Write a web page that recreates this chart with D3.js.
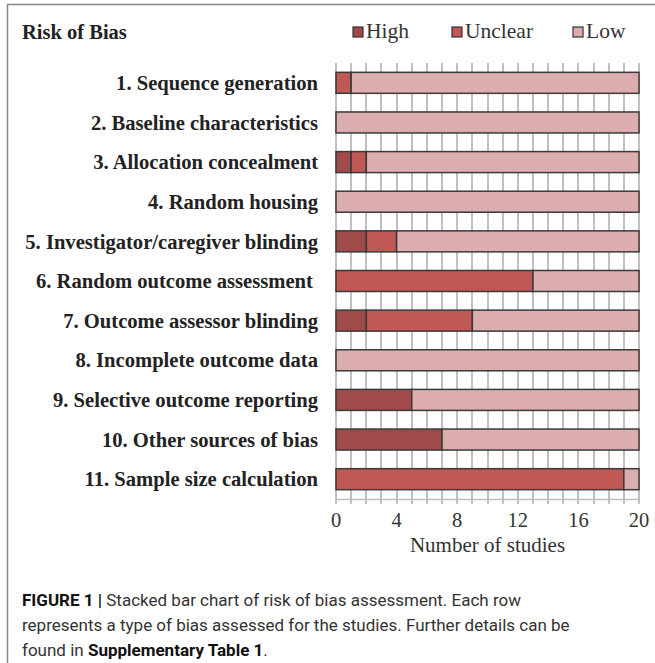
<!DOCTYPE html>
<html>
<head>
<meta charset="utf-8">
<script src="https://cdn.jsdelivr.net/npm/d3@7"></script>
<style>
  body { margin: 0; background: #fff; }
</style>
</head>
<body>
<svg id="chart" width="655" height="663"></svg>
<script>
let categories = [
    "1. Sequence generation",
    "2. Baseline characteristics",
    "3. Allocation concealment",
    "4. Random housing",
    "5. Investigator/caregiver blinding",
    "6. Random outcome assessment ",
    "7. Outcome assessor blinding",
    "8. Incomplete outcome data",
    "9. Selective outcome reporting",
    "10. Other sources of bias",
    "11. Sample size calculation"
];
let highValues    = [0, 0, 1, 0, 2, 0, 2, 0, 5, 7, 0];
let unclearValues = [1, 0, 1, 0, 2, 13, 7, 0, 0, 0, 19];
let lowValues     = [19, 20, 18, 20, 16, 7, 11, 20, 15, 13, 1];
let seriesNames = ["High", "Unclear", "Low"];
let tickValues = [0, 4, 8, 12, 16, 20];

let colors = { High: "#a04a4a", Unclear: "#c05856", Low: "#dbadae" };

let svg = d3.select("#chart");

// frame lines (left and top)
svg.append("path")
    .attr("d", "M7.5,663 V4.5 H655")
    .attr("fill", "none")
    .attr("stroke", "#888")
    .attr("stroke-width", 1.5);

let rows = categories.map(function(c, i) {
    return { cat: c, High: highValues[i], Unclear: unclearValues[i], Low: lowValues[i] };
});

let x = d3.scaleLinear().domain([0, 20]).range([336, 639]);
let y = d3.scaleBand().domain(categories).range([63, 499]).paddingInner(0.47).paddingOuter(0.235);

// gridlines every study
let g = svg.append("g");
g.selectAll(".grid")
    .data(d3.range(0, 21))
    .enter().append("line")
    .attr("class", "grid")
    .attr("x1", function(d) { return Math.round(x(d)); })
    .attr("x2", function(d) { return Math.round(x(d)); })
    .attr("y1", 63)
    .attr("y2", 504)
    .attr("stroke", "#c0c0c0")
    .attr("stroke-width", 2);

g.append("line")
    .attr("x1", x(0)).attr("x2", x(20))
    .attr("y1", 499.5).attr("y2", 499.5)
    .attr("stroke", "#c0c0c0")
    .attr("stroke-width", 1.5);

// tick labels
g.selectAll(".tick-label")
    .data(tickValues)
    .enter().append("text")
    .attr("x", function(d) { return x(d); })
    .attr("y", 527)
    .attr("text-anchor", "middle")
    .attr("font-family", "Liberation Serif, serif")
    .attr("font-size", "20.5px")
    .attr("fill", "#333")
    .text(function(d) { return d; });

g.append("text")
    .attr("x", x(10))
    .attr("y", 552)
    .attr("text-anchor", "middle")
    .attr("font-family", "Liberation Serif, serif")
    .attr("font-size", "21px")
    .attr("fill", "#333")
    .text("Number of studies");

// stacked bars
let stack = d3.stack().keys(seriesNames)(rows);
g.selectAll(".series")
    .data(stack)
    .enter().append("g")
    .attr("fill", function(d) { return colors[d.key]; })
    .selectAll("rect")
    .data(function(d) { return d.filter(function(p) { return p[1] > p[0]; }); })
    .enter().append("rect")
    .attr("x", function(d) { return x(d[0]); })
    .attr("y", function(d) { return y(d.data.cat); })
    .attr("width", function(d) { return x(d[1]) - x(d[0]); })
    .attr("height", y.bandwidth())
    .attr("stroke", "#3a3a3a")
    .attr("stroke-width", 1.5);

// category labels
g.selectAll(".cat-label")
    .data(categories)
    .enter().append("text")
    .attr("x", 318)
    .attr("y", function(d) { return y(d) + y.bandwidth() / 2; })
    .attr("dy", "0.35em")
    .attr("text-anchor", "end")
    .style("white-space", "pre")
    .attr("font-family", "Liberation Serif, serif")
    .attr("font-weight", "bold")
    .attr("font-size", "20.6px")
    .attr("fill", "#222")
    .text(function(d) { return d; });

// title
svg.append("text")
    .attr("x", 22)
    .attr("y", 39)
    .attr("font-family", "Liberation Serif, serif")
    .attr("font-weight", "bold")
    .attr("font-size", "20.5px")
    .attr("fill", "#222")
    .text("Risk of Bias");

// legend
let legendX = [353, 452, 573];
let legend = svg.selectAll(".legend")
    .data(seriesNames)
    .enter().append("g")
    .attr("transform", function(d, i) { return "translate(" + legendX[i] + ",27)"; });
legend.append("rect")
    .attr("width", 10)
    .attr("height", 10)
    .attr("fill", function(d) { return colors[d]; })
    .attr("stroke", "#333")
    .attr("stroke-width", 1.2);
legend.append("text")
    .attr("x", 13)
    .attr("y", 11)
    .attr("font-family", "Liberation Serif, serif")
    .attr("font-size", "21.5px")
    .attr("fill", "#333")
    .text(function(d) { return d; });

// caption
let cap = svg.append("text")
    .attr("font-family", "Roboto, sans-serif")
    .attr("font-size", "17px")
    .attr("fill", "#333");
let l1 = cap.append("tspan").attr("x", 22).attr("y", 606);
l1.append("tspan").attr("font-weight", "bold").attr("fill", "#111").text("FIGURE 1 | ");
l1.append("tspan").text("Stacked bar chart of risk of bias assessment. Each row");
cap.append("tspan").attr("x", 22).attr("y", 631)
    .text("represents a type of bias assessed for the studies. Further details can be");
let l3 = cap.append("tspan").attr("x", 22).attr("y", 656);
l3.append("tspan").text("found in ");
l3.append("tspan").attr("font-weight", "bold").attr("fill", "#111").text("Supplementary Table 1");
l3.append("tspan").text(".");
</script>
</body>
</html>
